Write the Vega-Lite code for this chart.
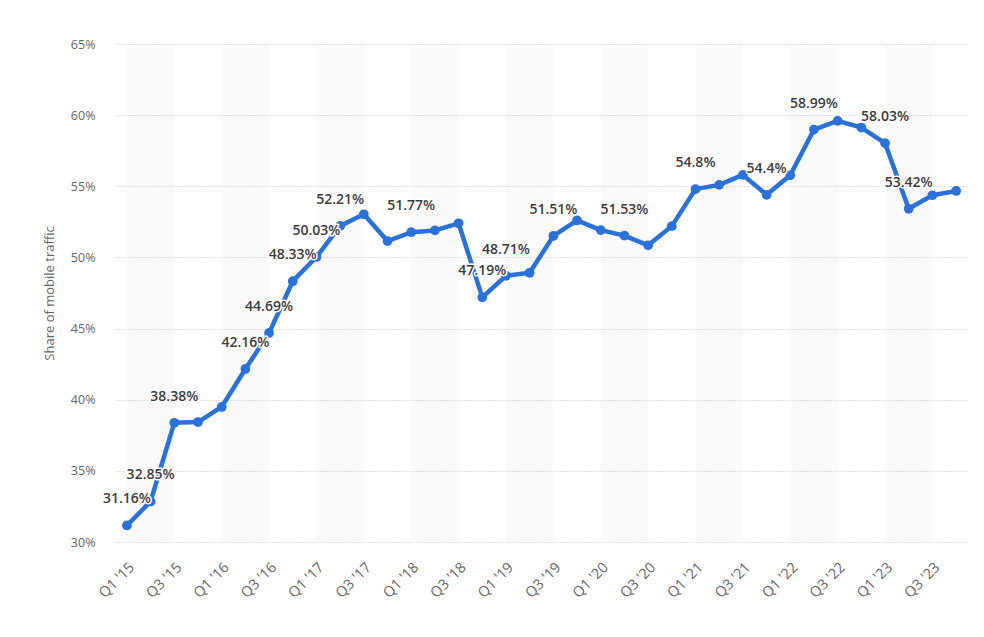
{
  "$schema": "https://vega.github.io/schema/vega-lite/v6.json",
  "width": 851,
  "height": 498,
  "autosize": {"type": "none"},
  "padding": {"left": 116, "top": 44, "right": 17, "bottom": 95},
  "background": "white",
  "config": {
    "view": {"stroke": null},
    "font": "Open Sans"
  },
  "data": {
    "values": [
      {"q": "Q1 '15", "v": 31.16, "lab": true, "bandEnd": "Q3 '15"},
      {"q": "Q2 '15", "v": 32.85, "lab": true},
      {"q": "Q3 '15", "v": 38.38, "lab": true},
      {"q": "Q4 '15", "v": 38.43},
      {"q": "Q1 '16", "v": 39.49, "bandEnd": "Q3 '16"},
      {"q": "Q2 '16", "v": 42.16, "lab": true},
      {"q": "Q3 '16", "v": 44.69, "lab": true},
      {"q": "Q4 '16", "v": 48.33, "lab": true},
      {"q": "Q1 '17", "v": 50.03, "lab": true, "bandEnd": "Q3 '17"},
      {"q": "Q2 '17", "v": 52.21, "lab": true},
      {"q": "Q3 '17", "v": 53.03},
      {"q": "Q4 '17", "v": 51.15},
      {"q": "Q1 '18", "v": 51.77, "lab": true, "bandEnd": "Q3 '18"},
      {"q": "Q2 '18", "v": 51.9},
      {"q": "Q3 '18", "v": 52.4},
      {"q": "Q4 '18", "v": 47.19, "lab": true},
      {"q": "Q1 '19", "v": 48.71, "lab": true, "bandEnd": "Q3 '19"},
      {"q": "Q2 '19", "v": 48.92},
      {"q": "Q3 '19", "v": 51.51, "lab": true},
      {"q": "Q4 '19", "v": 52.6},
      {"q": "Q1 '20", "v": 51.92, "bandEnd": "Q3 '20"},
      {"q": "Q2 '20", "v": 51.53, "lab": true},
      {"q": "Q3 '20", "v": 50.85},
      {"q": "Q4 '20", "v": 52.2},
      {"q": "Q1 '21", "v": 54.8, "lab": true, "bandEnd": "Q3 '21"},
      {"q": "Q2 '21", "v": 55.1},
      {"q": "Q3 '21", "v": 55.8},
      {"q": "Q4 '21", "v": 54.4, "lab": true},
      {"q": "Q1 '22", "v": 55.77, "bandEnd": "Q3 '22"},
      {"q": "Q2 '22", "v": 58.99, "lab": true},
      {"q": "Q3 '22", "v": 59.6},
      {"q": "Q4 '22", "v": 59.13},
      {"q": "Q1 '23", "v": 58.03, "lab": true, "bandEnd": "Q3 '23"},
      {"q": "Q2 '23", "v": 53.42, "lab": true},
      {"q": "Q3 '23", "v": 54.37},
      {"q": "Q4 '23", "v": 54.67}
    ]
  },
  "encoding": {
    "x": {
      "field": "q",
      "type": "ordinal",
      "sort": null,
      "scale": {
        "type": "point",
        "padding": 0.46,
        "domain": ["Q1 '15", "Q2 '15", "Q3 '15", "Q4 '15", "Q1 '16", "Q2 '16", "Q3 '16", "Q4 '16", "Q1 '17", "Q2 '17", "Q3 '17", "Q4 '17", "Q1 '18", "Q2 '18", "Q3 '18", "Q4 '18", "Q1 '19", "Q2 '19", "Q3 '19", "Q4 '19", "Q1 '20", "Q2 '20", "Q3 '20", "Q4 '20", "Q1 '21", "Q2 '21", "Q3 '21", "Q4 '21", "Q1 '22", "Q2 '22", "Q3 '22", "Q4 '22", "Q1 '23", "Q2 '23", "Q3 '23", "Q4 '23"]
      },
      "axis": {
        "title": null,
        "values": ["Q1 '15", "Q3 '15", "Q1 '16", "Q3 '16", "Q1 '17", "Q3 '17", "Q1 '18", "Q3 '18", "Q1 '19", "Q3 '19", "Q1 '20", "Q3 '20", "Q1 '21", "Q3 '21", "Q1 '22", "Q3 '22", "Q1 '23", "Q3 '23"],
        "labelAngle": -45,
        "labelFontSize": 14.5,
        "labelColor": "#666666",
        "labelPadding": 18,
        "domain": false,
        "ticks": false,
        "grid": false
      }
    }
  },
  "layer": [
    {
      "transform": [{"filter": "datum.bandEnd"}],
      "mark": {"type": "rect", "color": "#000000", "opacity": 0.018},
      "encoding": {
        "x2": {"field": "bandEnd"},
        "y": {"datum": 30, "type": "quantitative"},
        "y2": {"datum": 65}
      }
    },
    {
      "mark": {"type": "line", "color": "#2a72d9", "strokeWidth": 4.5, "strokeJoin": "round"},
      "encoding": {
        "y": {
          "field": "v",
          "type": "quantitative",
          "scale": {"domain": [30, 65], "nice": false, "zero": false},
          "axis": {
            "title": "Share of mobile traffic",
            "titleColor": "#666666",
            "titleFontSize": 13,
            "titleFontWeight": "normal",
            "titlePadding": 14,
            "values": [30, 35, 40, 45, 50, 55, 60, 65],
            "labelExpr": "datum.value + '%'",
            "labelColor": "#666666",
            "labelFontSize": 12.5,
            "labelPadding": 21,
            "domain": false,
            "ticks": false,
            "grid": true,
            "gridColor": "#c4c4c4",
            "gridDash": [1, 2]
          }
        }
      }
    },
    {
      "mark": {"type": "circle", "color": "#2a72d9", "opacity": 1, "size": 95},
      "encoding": {"y": {"field": "v", "type": "quantitative"}}
    },
    {
      "transform": [
        {"filter": "datum.lab"},
        {"calculate": "datum.v + '%'", "as": "txt"}
      ],
      "mark": {"type": "text", "dy": -26, "fontSize": 14, "fontWeight": 600, "stroke": "white", "strokeWidth": 3, "strokeJoin": "round", "color": "white"},
      "encoding": {
        "y": {"field": "v", "type": "quantitative"},
        "text": {"field": "txt"},
        "xOffset": {"condition": {"test": "datum.q === \"Q1 '15\"", "value": 13}, "value": 0}
      }
    },
    {
      "transform": [
        {"filter": "datum.lab"},
        {"calculate": "datum.v + '%'", "as": "txt"}
      ],
      "mark": {"type": "text", "dy": -26, "fontSize": 14, "fontWeight": 600, "color": "#3c3c3c"},
      "encoding": {
        "y": {"field": "v", "type": "quantitative"},
        "text": {"field": "txt"},
        "xOffset": {"condition": {"test": "datum.q === \"Q1 '15\"", "value": 13}, "value": 0}
      }
    }
  ]
}
